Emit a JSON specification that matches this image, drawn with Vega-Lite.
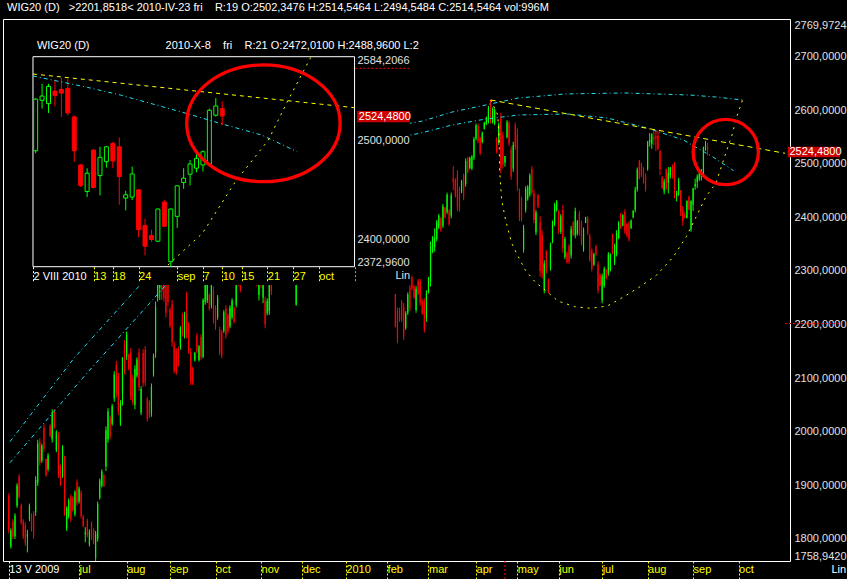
{
  "$schema": "https://vega.github.io/schema/vega-lite/v6.json",
  "width": 787,
  "height": 542,
  "autosize": {"type": "none"},
  "padding": {"left": 3, "top": 19, "right": 57, "bottom": 18},
  "background": "#000000",
  "title": {
    "text": "WIG20 (D)\u00a0\u00a0\u00a0>2201,8518<\u00a02010-IV-23\u00a0fri\u00a0\u00a0\u00a0\u00a0R:19 O:2502,3476 H:2514,5464 L:2494,5484 C:2514,5464 vol:996M",
    "anchor": "start", "frame": "group", "font": "Liberation Sans", "fontSize": 11, "fontWeight": "normal",
    "color": "#ffffff", "baseline": "alphabetic", "offset": 6, "dx": 4, "dy": 9
  },
  "config": {
    "locale": {"number": {"decimal": ",", "thousands": ".", "grouping": [3], "currency": ["", ""]}},
    "view": {"stroke": "#ffffff", "strokeWidth": 1},
    "axis": {"grid": false, "domain": false, "labelFont": "Liberation Sans", "labelFontSize": 11, "labelColor": "#e0e0e0",
             "titleFont": "Liberation Sans", "titleFontSize": 11, "titleFontWeight": "normal", "titleColor": "#e0e0e0"},
    "text": {"font": "Liberation Sans", "fontSize": 11}
  },
  "datasets": {
    "wig20": [
      {"d":0,"o":1880,"h":1885,"l":1810,"c":1815},{"d":1,"o":1786,"h":1820,"l":1782,"c":1816},{"d":2,"o":1832,"h":1837,"l":1800,"c":1804},
      {"d":3,"o":1805,"h":1848,"l":1800,"c":1844},{"d":4,"o":1862,"h":1904,"l":1858,"c":1900},{"d":5,"o":1916,"h":1921,"l":1875,"c":1879},
      {"d":6,"o":1862,"h":1866,"l":1827,"c":1831},{"d":7,"o":1833,"h":1837,"l":1800,"c":1805},{"d":8,"o":1826,"h":1831,"l":1787,"c":1792},
      {"d":9,"o":1804,"h":1817,"l":1775,"c":1809},{"d":10,"o":1837,"h":1866,"l":1833,"c":1862},{"d":11,"o":1844,"h":1848,"l":1814,"c":1818},
      {"d":12,"o":1847,"h":1852,"l":1800,"c":1805},{"d":13,"o":1850,"h":1917,"l":1843,"c":1910},{"d":14,"o":1905,"h":1985,"l":1899,"c":1978},
      {"d":15,"o":1982,"h":1988,"l":1937,"c":1942},{"d":16,"o":1946,"h":1978,"l":1942,"c":1974},{"d":17,"o":2008,"h":2014,"l":1962,"c":1968},
      {"d":18,"o":1949,"h":1950,"l":1916,"c":1919},{"d":19,"o":1930,"h":1960,"l":1926,"c":1956},{"d":20,"o":2011,"h":2014,"l":1990,"c":1993},
      {"d":21,"o":1986,"h":2042,"l":1980,"c":2036},{"d":22,"o":2038,"h":2042,"l":2005,"c":2009},{"d":23,"o":1966,"h":2003,"l":1962,"c":1999},
      {"d":24,"o":1994,"h":2000,"l":1914,"c":1920},{"d":25,"o":1935,"h":1939,"l":1899,"c":1903},{"d":26,"o":1920,"h":1975,"l":1914,"c":1969},
      {"d":27,"o":1954,"h":1955,"l":1843,"c":1845},{"d":28,"o":1820,"h":1861,"l":1815,"c":1857},{"d":29,"o":1842,"h":1876,"l":1838,"c":1872},
      {"d":30,"o":1878,"h":1883,"l":1832,"c":1837},{"d":31,"o":1877,"h":1880,"l":1851,"c":1854},{"d":32,"o":1846,"h":1891,"l":1842,"c":1887},
      {"d":33,"o":1906,"h":1911,"l":1862,"c":1867},{"d":34,"o":1870,"h":1898,"l":1866,"c":1894},{"d":35,"o":1886,"h":1891,"l":1838,"c":1843},
      {"d":36,"o":1842,"h":1845,"l":1822,"c":1824},{"d":37,"o":1809,"h":1822,"l":1794,"c":1812},{"d":38,"o":1834,"h":1838,"l":1803,"c":1807},
      {"d":39,"o":1790,"h":1818,"l":1786,"c":1814},{"d":40,"o":1829,"h":1833,"l":1798,"c":1802},{"d":41,"o":1817,"h":1820,"l":1790,"c":1793},
      {"d":42,"o":1764,"h":1815,"l":1758.942,"c":1810},{"d":43,"o":1800,"h":1870,"l":1795,"c":1865},{"d":44,"o":1877,"h":1913,"l":1873,"c":1909},
      {"d":45,"o":1900,"h":1930,"l":1896,"c":1926},{"d":46,"o":1920,"h":1921,"l":1897,"c":1898},{"d":47,"o":1935,"h":2010,"l":1927,"c":2003},
      {"d":48,"o":1986,"h":2044,"l":1980,"c":2038},{"d":49,"o":2025,"h":2030,"l":1986,"c":1991},{"d":50,"o":2015,"h":2052,"l":2011,"c":2048},
      {"d":51,"o":2062,"h":2113,"l":2056,"c":2107},{"d":52,"o":2125,"h":2132,"l":2064,"c":2071},{"d":53,"o":2103,"h":2110,"l":2031,"c":2038},
      {"d":54,"o":2016,"h":2059,"l":2011,"c":2054},{"d":55,"o":2072,"h":2139,"l":2049,"c":2139},{"d":56,"o":2165,"h":2171,"l":2107,"c":2113},
      {"d":57,"o":2140,"h":2187,"l":2134,"c":2181},{"d":58,"o":2143,"h":2146,"l":2115,"c":2118},{"d":59,"o":2148,"h":2156,"l":2059,"c":2067},
      {"d":60,"o":2100,"h":2106,"l":2049,"c":2054},{"d":61,"o":2050,"h":2124,"l":2042,"c":2117},{"d":62,"o":2105,"h":2139,"l":2101,"c":2135},
      {"d":63,"o":2148,"h":2156,"l":2076,"c":2084},{"d":64,"o":2036,"h":2085,"l":2031,"c":2080},{"d":65,"o":2147,"h":2154,"l":2084,"c":2091},
      {"d":66,"o":2153,"h":2160,"l":2085,"c":2092},{"d":67,"o":2061,"h":2065,"l":2019,"c":2023},{"d":68,"o":2056,"h":2059,"l":2026,"c":2030},
      {"d":69,"o":2034,"h":2090,"l":2028,"c":2084},{"d":70,"o":2107,"h":2146,"l":2103,"c":2142},{"d":71,"o":2148,"h":2243,"l":2138,"c":2233},
      {"d":72,"o":2250,"h":2290,"l":2243,"c":2282},{"d":73,"o":2268,"h":2302,"l":2246,"c":2295},{"d":74,"o":2298,"h":2305,"l":2246,"c":2262},
      {"d":75,"o":2285,"h":2296,"l":2243,"c":2250},{"d":76,"o":2278,"h":2285,"l":2213,"c":2222},{"d":77,"o":2284,"h":2290,"l":2235,"c":2242},
      {"d":78,"o":2228,"h":2232,"l":2194,"c":2198},{"d":79,"o":2238,"h":2246,"l":2159,"c":2167},{"d":80,"o":2162,"h":2168,"l":2109,"c":2114},
      {"d":81,"o":2151,"h":2156,"l":2106,"c":2110},{"d":82,"o":2155,"h":2159,"l":2121,"c":2125},{"d":83,"o":2157,"h":2197,"l":2153,"c":2193},
      {"d":84,"o":2218,"h":2222,"l":2177,"c":2181},{"d":85,"o":2179,"h":2224,"l":2174,"c":2219},{"d":86,"o":2253,"h":2261,"l":2174,"c":2182},
      {"d":87,"o":2198,"h":2204,"l":2146,"c":2152},{"d":88,"o":2149,"h":2156,"l":2087,"c":2094},{"d":89,"o":2118,"h":2121,"l":2087,"c":2090},
      {"d":90,"o":2133,"h":2149,"l":2131,"c":2147},{"d":91,"o":2180,"h":2184,"l":2146,"c":2150},{"d":92,"o":2134,"h":2162,"l":2131,"c":2159},
      {"d":93,"o":2177,"h":2182,"l":2134,"c":2139},{"d":94,"o":2140,"h":2249,"l":2137,"c":2246},{"d":95,"o":2242,"h":2285,"l":2237,"c":2280},
      {"d":96,"o":2245,"h":2290,"l":2240,"c":2285},{"d":97,"o":2255,"h":2258,"l":2226,"c":2229},{"d":98,"o":2236,"h":2285,"l":2230,"c":2280},
      {"d":99,"o":2264,"h":2271,"l":2202,"c":2209},{"d":100,"o":2231,"h":2236,"l":2190,"c":2195},{"d":101,"o":2214,"h":2255,"l":2209,"c":2250},
      {"d":102,"o":2191,"h":2196,"l":2143,"c":2148},{"d":103,"o":2185,"h":2190,"l":2137,"c":2142},{"d":104,"o":2188,"h":2227,"l":2184,"c":2223},
      {"d":105,"o":2230,"h":2236,"l":2174,"c":2180},{"d":106,"o":2217,"h":2221,"l":2184,"c":2188},{"d":107,"o":2197,"h":2236,"l":2193,"c":2232},
      {"d":108,"o":2214,"h":2249,"l":2210,"c":2245},{"d":109,"o":2230,"h":2233,"l":2202,"c":2205},{"d":110,"o":2237,"h":2280,"l":2232,"c":2275},
      {"d":111,"o":2296,"h":2300,"l":2271,"c":2275},{"d":112,"o":2300,"h":2305,"l":2260,"c":2265},{"d":113,"o":2290,"h":2330,"l":2285,"c":2325},
      {"d":114,"o":2318,"h":2352,"l":2310,"c":2345},{"d":115,"o":2340,"h":2376,"l":2335,"c":2370},{"d":116,"o":2365,"h":2395,"l":2355,"c":2390},
      {"d":117,"o":2385,"h":2420,"l":2375,"c":2412},{"d":118,"o":2430,"h":2440,"l":2395,"c":2400},{"d":119,"o":2395,"h":2400,"l":2355,"c":2360},
      {"d":120,"o":2350,"h":2355,"l":2271,"c":2280},{"d":121,"o":2255,"h":2320,"l":2245,"c":2310},{"d":122,"o":2320,"h":2330,"l":2268,"c":2275},
      {"d":123,"o":2250,"h":2300,"l":2240,"c":2290},{"d":124,"o":2245,"h":2252,"l":2193,"c":2200},{"d":125,"o":2221,"h":2249,"l":2217,"c":2244},
      {"d":126,"o":2225,"h":2285,"l":2218,"c":2278},{"d":127,"o":2294,"h":2300,"l":2255,"c":2262},{"d":128,"o":2285,"h":2310,"l":2280,"c":2305},
      {"d":129,"o":2300,"h":2330,"l":2295,"c":2325},{"d":130,"o":2318,"h":2348,"l":2310,"c":2342},{"d":131,"o":2342,"h":2350,"l":2315,"c":2320},
      {"d":132,"o":2322,"h":2362,"l":2318,"c":2356},{"d":133,"o":2352,"h":2380,"l":2345,"c":2374},{"d":134,"o":2372,"h":2382,"l":2345,"c":2350},
      {"d":135,"o":2348,"h":2372,"l":2340,"c":2365},{"d":136,"o":2365,"h":2370,"l":2330,"c":2338},{"d":137,"o":2335,"h":2365,"l":2325,"c":2360},
      {"d":138,"o":2358,"h":2362,"l":2300,"c":2305},{"d":139,"o":2237,"h":2298,"l":2235,"c":2290},{"d":140,"o":2290,"h":2330,"l":2285,"c":2325},
      {"d":141,"o":2320,"h":2345,"l":2310,"c":2340},{"d":142,"o":2340,"h":2375,"l":2335,"c":2370},{"d":143,"o":2378,"h":2385,"l":2355,"c":2360},
      {"d":144,"o":2370,"h":2380,"l":2340,"c":2345},{"d":145,"o":2350,"h":2360,"l":2320,"c":2325},{"d":146,"o":2310,"h":2345,"l":2300,"c":2340},
      {"d":147,"o":2345,"h":2355,"l":2320,"c":2325},{"d":148,"o":2330,"h":2340,"l":2300,"c":2305},{"d":149,"o":2295,"h":2330,"l":2290,"c":2325},
      {"d":150,"o":2318,"h":2345,"l":2310,"c":2340},{"d":151,"o":2345,"h":2350,"l":2315,"c":2320},{"d":152,"o":2325,"h":2330,"l":2295,"c":2300},
      {"d":153,"o":2295,"h":2320,"l":2288,"c":2315},{"d":154,"o":2310,"h":2335,"l":2300,"c":2330},{"d":155,"o":2325,"h":2345,"l":2315,"c":2340},
      {"d":156,"o":2335,"h":2360,"l":2330,"c":2355},{"d":157,"o":2350,"h":2372,"l":2345,"c":2368},{"d":158,"o":2365,"h":2385,"l":2358,"c":2380},
      {"d":159,"o":2385,"h":2392,"l":2365,"c":2370},{"d":160,"o":2368,"h":2390,"l":2362,"c":2385},{"d":161,"o":2375,"h":2395,"l":2370,"c":2390},
      {"d":162,"o":2395,"h":2400,"l":2375,"c":2388},{"d":163,"o":2390,"h":2425,"l":2385,"c":2420},{"d":164,"o":2420,"h":2440,"l":2410,"c":2435},
      {"d":165,"o":2430,"h":2455,"l":2425,"c":2450},{"d":166,"o":2452,"h":2460,"l":2430,"c":2440},{"d":167,"o":2440,"h":2470,"l":2435,"c":2465},
      {"d":168,"o":2460,"h":2482,"l":2450,"c":2475},{"d":169,"o":2475,"h":2480,"l":2440,"c":2445},{"d":170,"o":2450,"h":2460,"l":2425,"c":2430},
      {"d":171,"o":2430,"h":2455,"l":2420,"c":2450},{"d":172,"o":2445,"h":2465,"l":2435,"c":2460},{"d":173,"o":2460,"h":2470,"l":2430,"c":2435},
      {"d":174,"o":2440,"h":2450,"l":2405,"c":2410},{"d":175,"o":2420,"h":2430,"l":2390,"c":2395},{"d":176,"o":2400,"h":2410,"l":2370,"c":2375},
      {"d":177,"o":2385,"h":2395,"l":2350,"c":2358},{"d":178,"o":2355,"h":2390,"l":2345,"c":2380},{"d":179,"o":2378,"h":2385,"l":2340,"c":2345},
      {"d":180,"o":2350,"h":2360,"l":2320,"c":2325},{"d":181,"o":2340,"h":2350,"l":2305,"c":2310},{"d":182,"o":2320,"h":2330,"l":2290,"c":2295},
      {"d":183,"o":2290,"h":2320,"l":2285,"c":2315},{"d":184,"o":2325,"h":2335,"l":2295,"c":2300},{"d":185,"o":2305,"h":2315,"l":2282,"c":2285},
      {"d":186,"o":2295,"h":2300,"l":2282,"c":2285},{"d":187,"o":2257,"h":2257,"l":2195,"c":2195},{"d":188,"o":2225,"h":2231.5,"l":2165,"c":2172},
      {"d":189,"o":2228,"h":2231.5,"l":2205,"c":2208},{"d":190,"o":2242,"h":2246,"l":2205,"c":2209},{"d":191,"o":2233,"h":2240,"l":2171,"c":2178},
      {"d":192,"o":2194,"h":2225,"l":2190,"c":2221},{"d":193,"o":2222,"h":2260,"l":2218,"c":2256},{"d":194,"o":2269,"h":2274,"l":2225,"c":2230},
      {"d":195,"o":2288,"h":2291,"l":2264,"c":2267},{"d":196,"o":2271,"h":2274,"l":2248,"c":2251},{"d":197,"o":2227,"h":2272,"l":2222,"c":2267},
      {"d":198,"o":2282,"h":2285,"l":2255,"c":2258},{"d":199,"o":2280,"h":2285,"l":2235,"c":2240},{"d":200,"o":2244,"h":2247,"l":2218,"c":2221},
      {"d":201,"o":2243,"h":2249,"l":2185,"c":2191},{"d":202,"o":2211,"h":2264,"l":2205,"c":2258},{"d":203,"o":2261,"h":2289,"l":2258,"c":2286},
      {"d":204,"o":2279,"h":2355,"l":2271,"c":2347},{"d":205,"o":2336,"h":2365,"l":2333,"c":2362},{"d":206,"o":2345,"h":2379.5,"l":2336,"c":2362},
      {"d":207,"o":2359,"h":2395,"l":2355,"c":2391},{"d":208,"o":2381,"h":2406,"l":2378,"c":2403},{"d":209,"o":2398,"h":2401,"l":2373,"c":2376},
      {"d":210,"o":2384,"h":2425,"l":2380,"c":2420},{"d":211,"o":2418,"h":2420,"l":2398,"c":2400},{"d":212,"o":2410,"h":2446,"l":2406,"c":2442},
      {"d":213,"o":2412,"h":2415.5,"l":2384,"c":2387},{"d":214,"o":2403,"h":2446,"l":2398,"c":2441},{"d":215,"o":2473,"h":2496,"l":2451,"c":2465},
      {"d":216,"o":2469,"h":2473,"l":2437,"c":2441},{"d":217,"o":2480,"h":2488,"l":2412,"c":2420},{"d":218,"o":2452,"h":2457,"l":2410.5,"c":2415},
      {"d":219,"o":2448,"h":2470,"l":2445,"c":2467},{"d":220,"o":2477,"h":2482,"l":2432,"c":2437},{"d":221,"o":2462,"h":2510,"l":2457,"c":2505},
      {"d":222,"o":2510,"h":2513,"l":2482,"c":2485},{"d":223,"o":2492,"h":2513,"l":2489.5,"c":2511},{"d":224,"o":2491,"h":2516,"l":2488,"c":2513},
      {"d":225,"o":2511,"h":2550,"l":2507,"c":2546},{"d":226,"o":2547,"h":2575,"l":2544,"c":2572},{"d":227,"o":2571,"h":2575,"l":2538,"c":2542},
      {"d":228,"o":2547,"h":2550,"l":2516,"c":2520},{"d":229,"o":2540,"h":2560,"l":2538,"c":2558},{"d":230,"o":2565,"h":2578,"l":2564,"c":2577},
      {"d":231,"o":2574,"h":2588,"l":2572,"c":2586},{"d":232,"o":2578,"h":2608,"l":2575,"c":2605},{"d":233,"o":2615,"h":2619,"l":2575,"c":2580},
      {"d":234,"o":2578,"h":2605,"l":2575,"c":2602},{"d":235,"o":2575,"h":2603,"l":2572,"c":2600},{"d":236,"o":2547,"h":2550,"l":2519,"c":2522},
      {"d":237,"o":2539,"h":2577,"l":2535,"c":2573},{"d":238,"o":2585,"h":2595,"l":2482,"c":2493},{"d":239,"o":2553,"h":2560,"l":2491,"c":2498},
      {"d":240,"o":2502.3476,"h":2514.5464,"l":2494.5484,"c":2514.5464},{"d":241,"o":2550,"h":2581.5,"l":2547,"c":2578},{"d":242,"o":2575,"h":2580,"l":2533,"c":2538},
      {"d":243,"o":2527,"h":2533,"l":2470,"c":2476},{"d":244,"o":2491,"h":2541,"l":2485,"c":2535},{"d":245,"o":2572,"h":2577,"l":2526,"c":2531},
      {"d":246,"o":2554,"h":2566,"l":2449,"c":2461},{"d":247,"o":2448,"h":2454,"l":2393,"c":2399},{"d":248,"o":2434,"h":2438.5,"l":2392,"c":2397},
      {"d":249,"o":2339,"h":2386,"l":2334,"c":2381},{"d":250,"o":2414,"h":2458,"l":2409,"c":2453},{"d":251,"o":2434,"h":2460,"l":2431,"c":2457},
      {"d":252,"o":2443,"h":2482,"l":2438.5,"c":2478},{"d":253,"o":2490,"h":2496,"l":2442,"c":2447},{"d":254,"o":2445,"h":2451,"l":2389,"c":2395},
      {"d":255,"o":2372,"h":2414,"l":2367,"c":2409},{"d":256,"o":2441,"h":2443.5,"l":2417,"c":2420},{"d":257,"o":2391,"h":2402.5,"l":2289,"c":2300},
      {"d":258,"o":2366,"h":2375,"l":2286,"c":2295},{"d":259,"o":2264,"h":2320,"l":2258,"c":2314},{"d":260,"o":2335,"h":2339,"l":2295.5,"c":2300},
      {"d":261,"o":2283,"h":2286,"l":2258,"c":2261},{"d":262,"o":2306,"h":2353,"l":2300.5,"c":2348},{"d":263,"o":2356,"h":2394,"l":2351.5,"c":2390},
      {"d":264,"o":2388,"h":2427,"l":2384,"c":2423},{"d":265,"o":2413,"h":2432,"l":2410.5,"c":2430},{"d":266,"o":2410,"h":2414,"l":2369,"c":2373},
      {"d":267,"o":2373,"h":2406,"l":2369,"c":2402},{"d":268,"o":2414,"h":2423,"l":2334,"c":2343},{"d":269,"o":2326,"h":2364,"l":2322,"c":2360},
      {"d":270,"o":2334,"h":2336,"l":2314,"c":2316},{"d":271,"o":2346,"h":2350,"l":2313,"c":2317},{"d":272,"o":2329,"h":2384,"l":2323,"c":2378},
      {"d":273,"o":2390,"h":2393,"l":2365,"c":2368},{"d":274,"o":2367,"h":2418,"l":2361,"c":2412},{"d":275,"o":2369,"h":2395,"l":2366,"c":2392},
      {"d":276,"o":2407,"h":2412,"l":2366,"c":2371},{"d":277,"o":2389,"h":2394,"l":2348,"c":2353},{"d":278,"o":2340,"h":2381,"l":2336,"c":2377},
      {"d":279,"o":2390,"h":2401,"l":2389,"c":2400},{"d":280,"o":2398,"h":2402,"l":2367,"c":2371},{"d":281,"o":2365,"h":2370,"l":2317,"c":2322},
      {"d":282,"o":2338,"h":2342,"l":2299,"c":2303},{"d":283,"o":2312,"h":2334,"l":2309,"c":2331},{"d":284,"o":2346,"h":2348,"l":2328,"c":2330},
      {"d":285,"o":2312,"h":2318,"l":2258,"c":2264},{"d":286,"o":2293,"h":2295,"l":2271,"c":2273},{"d":287,"o":2245,"h":2295,"l":2239.6,"c":2290},
      {"d":288,"o":2273,"h":2308,"l":2269,"c":2304},{"d":289,"o":2302,"h":2304,"l":2284,"c":2286},{"d":290,"o":2295,"h":2335,"l":2291,"c":2331},
      {"d":291,"o":2302,"h":2333,"l":2299,"c":2330},{"d":292,"o":2366,"h":2370,"l":2331,"c":2335},{"d":293,"o":2315,"h":2351,"l":2311,"c":2347},
      {"d":294,"o":2332,"h":2376,"l":2327,"c":2371},{"d":295,"o":2362,"h":2393,"l":2359,"c":2390},{"d":296,"o":2406,"h":2409,"l":2378,"c":2381},
      {"d":297,"o":2385,"h":2406,"l":2383,"c":2404},{"d":298,"o":2410,"h":2415,"l":2369,"c":2374},{"d":299,"o":2387,"h":2390,"l":2363,"c":2366},
      {"d":300,"o":2389,"h":2393,"l":2355,"c":2359},{"d":301,"o":2380,"h":2396,"l":2378,"c":2394},{"d":302,"o":2400,"h":2414,"l":2398,"c":2412},
      {"d":303,"o":2414,"h":2457,"l":2409,"c":2452},{"d":304,"o":2452,"h":2493,"l":2448,"c":2489},{"d":305,"o":2505,"h":2507,"l":2471,"c":2473},
      {"d":306,"o":2499,"h":2502,"l":2475,"c":2478},{"d":307,"o":2491,"h":2494,"l":2463,"c":2466},{"d":308,"o":2478,"h":2482,"l":2448,"c":2452},
      {"d":309,"o":2489.6,"h":2542.5,"l":2487,"c":2541.5},{"d":310,"o":2540.3,"h":2557,"l":2532,"c":2544.6},{"d":311,"o":2537,"h":2557,"l":2527.6,"c":2554.3},
      {"d":312,"o":2549.6,"h":2561,"l":2534.3,"c":2545.3},{"d":313,"o":2551.3,"h":2563,"l":2523.6,"c":2547.6},{"d":314,"o":2552.3,"h":2562,"l":2525,"c":2527.6},
      {"d":315,"o":2523.6,"h":2525,"l":2478.6,"c":2489.6},{"d":316,"o":2475.3,"h":2476.5,"l":2453,"c":2454.6},{"d":317,"o":2448.6,"h":2472,"l":2443,"c":2467},
      {"d":318,"o":2490.3,"h":2491,"l":2451.5,"c":2452.6},{"d":319,"o":2464.6,"h":2493.6,"l":2444.6,"c":2483},{"d":320,"o":2478.6,"h":2494,"l":2472.6,"c":2493.6},
      {"d":321,"o":2497,"h":2498.6,"l":2472,"c":2479.3},{"d":322,"o":2493.6,"h":2503,"l":2435.3,"c":2463.6},{"d":323,"o":2442,"h":2449.3,"l":2429.6,"c":2445.3},
      {"d":324,"o":2443,"h":2473.6,"l":2440,"c":2466.3},{"d":325,"o":2450.3,"h":2451,"l":2402.6,"c":2410.3},{"d":326,"o":2414.3,"h":2421.3,"l":2384.3,"c":2393.6},
      {"d":327,"o":2404.3,"h":2410.3,"l":2398,"c":2400.3},{"d":328,"o":2398.6,"h":2431.5,"l":2398,"c":2431},{"d":329,"o":2438,"h":2440.3,"l":2413,"c":2413.6},
      {"d":330,"o":2378,"h":2431.5,"l":2372.96,"c":2431},{"d":331,"o":2423.6,"h":2454.8,"l":2412,"c":2454.3},{"d":332,"o":2457.6,"h":2472,"l":2451.3,"c":2462},
      {"d":333,"o":2466,"h":2480.3,"l":2454.6,"c":2476.3},{"d":334,"o":2472.01,"h":2488.96,"l":2468,"c":2482},{"d":335,"o":2475.3,"h":2490,"l":2468.6,"c":2488.6},
      {"d":336,"o":2476.3,"h":2532,"l":2476,"c":2530.3},{"d":337,"o":2525.3,"h":2542.6,"l":2524,"c":2534.6},{"d":338,"o":2532,"h":2539.3,"l":2515.3,"c":2524.48}
    ],
    "lines": [
      {"line":"main cyan upper","d":0.57,"v":1981.5},{"line":"main cyan upper","d":31.6,"v":2137.6},{"line":"main cyan upper","d":63.5,"v":2273.8},
      {"line":"main cyan upper","d":189.2,"v":2572.3},{"line":"main cyan upper","d":200.2,"v":2579.7},{"line":"main cyan upper","d":214.5,"v":2596.5},
      {"line":"main cyan upper","d":230.7,"v":2609.6},{"line":"main cyan upper","d":246.5,"v":2622.6},{"line":"main cyan upper","d":269.0,"v":2630.1},
      {"line":"main cyan upper","d":297.6,"v":2632.0},{"line":"main cyan upper","d":329.1,"v":2628.2},{"line":"main cyan upper","d":342.0,"v":2624.5},
      {"line":"main cyan upper","d":354.9,"v":2618.9},
      {"line":"main cyan lower","d":0.57,"v":1942.3},{"line":"main cyan lower","d":38.3,"v":2111.5},{"line":"main cyan lower","d":76.0,"v":2273.8},
      {"line":"main cyan lower","d":189.2,"v":2549.9},{"line":"main cyan lower","d":198.8,"v":2556.8},{"line":"main cyan lower","d":214.5,"v":2572.3},
      {"line":"main cyan lower","d":230.7,"v":2583.4},{"line":"main cyan lower","d":246.5,"v":2590.9},{"line":"main cyan lower","d":270.4,"v":2592.8},
      {"line":"main cyan lower","d":289.5,"v":2585.3},{"line":"main cyan lower","d":308.6,"v":2566.7},{"line":"main cyan lower","d":326.3,"v":2544.3},
      {"line":"main cyan lower","d":340.6,"v":2512.6},{"line":"main cyan lower","d":350.6,"v":2487.0},
      {"line":"main cup","d":233.1,"v":2618.9},{"line":"main cup","d":236.5,"v":2590.9},{"line":"main cup","d":237.2,"v":2544.3},
      {"line":"main cup","d":237.4,"v":2488.3},{"line":"main cup","d":238.4,"v":2432.4},{"line":"main cup","d":240.3,"v":2395.1},
      {"line":"main cup","d":243.2,"v":2352.1},{"line":"main cup","d":246.5,"v":2326.0},{"line":"main cup","d":249.8,"v":2301.8},
      {"line":"main cup","d":254.6,"v":2279.4},{"line":"main cup","d":259.4,"v":2264.5},{"line":"main cup","d":265.6,"v":2244.0},
      {"line":"main cup","d":273.7,"v":2233.3},{"line":"main cup","d":281.4,"v":2230.3},{"line":"main cup","d":289.5,"v":2234.6},
      {"line":"main cup","d":297.6,"v":2252.0},{"line":"main cup","d":305.3,"v":2270.6},{"line":"main cup","d":313.4,"v":2292.5},
      {"line":"main cup","d":321.5,"v":2326.6},{"line":"main cup","d":327.7,"v":2363.9},{"line":"main cup","d":332.5,"v":2401.2},
      {"line":"main cup","d":337.2,"v":2438.5},{"line":"main cup","d":342.0,"v":2463.5},{"line":"main cup","d":346.8,"v":2519.5},
      {"line":"main cup","d":350.1,"v":2556.8},{"line":"main cup","d":351.6,"v":2581.6},{"line":"main cup","d":354.9,"v":2618.9},
      {"line":"main resistance","d":233.1,"v":2618.9},{"line":"main resistance","d":375.45,"v":2519.5},
      {"line":"inset cyan","d":308.59,"v":2564.8},{"line":"inset cyan","d":317.03,"v":2553.4},{"line":"inset cyan","d":322.15,"v":2545.7},
      {"line":"inset cyan","d":332.37,"v":2527.3},{"line":"inset cyan","d":338.0,"v":2516.5},{"line":"inset cyan","d":344.14,"v":2505.4},
      {"line":"inset cyan","d":349.66,"v":2488.6},
      {"line":"inset resistance","d":308.59,"v":2566.8},{"line":"inset resistance","d":358.56,"v":2532.9},
      {"line":"inset steep","d":329.56,"v":2374.7},{"line":"inset steep","d":334.93,"v":2406.6},{"line":"inset steep","d":340.04,"v":2458.5},
      {"line":"inset steep","d":345.17,"v":2500.4},{"line":"inset steep","d":348.24,"v":2540.6},{"line":"inset steep","d":351.81,"v":2584.2}
    ]
  },
  "data": {"name": "wig20"},
  "resolve": {"scale": {"x": "independent", "y": "independent"}},
  "layer": [
    {
      "layer": [
        {
          "mark": {"type": "rule", "strokeWidth": 1},
          "encoding": {
            "x": {"field": "d", "type": "quantitative", "scale": {"domain": [-0.38, 375.45], "nice": false, "zero": false},
              "axis": {"orient": "bottom", "title": null,
                "values": [0,34,57,78,100,122,142,163,183,203,226,246,266,287,309,331,353],
                "labelExpr": "['13 V 2009','jul','aug','sep','oct','nov','dec','2010','feb','mar','apr','may','jun','jul','aug','sep','oct'][indexof([0,34,57,78,100,122,142,163,183,203,226,246,266,287,309,331,353], datum.value)]",
                "ticks": true, "tickSize": 18, "tickDash": [2,2], "tickWidth": 1,
                "tickColor": {"condition": {"test": "datum.value == 0", "value": "#ffffff"}, "value": "#ffff00"},
                "labelColor": {"condition": {"test": "datum.value == 0", "value": "#ffffff"}, "value": "#ffff00"},
                "labelAlign": "left", "labelDx": 3, "labelBaseline": "alphabetic", "labelPadding": -6.3,
                "labelFlush": false, "labelOverlap": false, "labelBound": false}},
            "y": {"field": "l", "type": "quantitative", "scale": {"domain": [1758.942, 2769.9724], "nice": false, "zero": false},
              "axis": {"orient": "right", "title": "Lin",
                "values": [1758.942,1800,1900,2000,2100,2200,2300,2400,2500,2600,2700,2769.9724],
                "format": ".4f", "ticks": false, "tickSize": 0, "labelPadding": 4, "labelFlush": true, "labelOverlap": false,
                "titleAngle": 0, "titleX": 41, "titleY": 553.7, "titleAlign": "left", "titleBaseline": "alphabetic", "titleColor": "#ffffff"}},
            "y2": {"field": "h"},
            "color": {"condition": {"test": "datum.c >= datum.o", "value": "#00ff00"}, "value": "#ff0000"}
          }
        },
        {
          "mark": {"type": "bar", "size": 1.2},
          "encoding": {
            "x": {"field": "d", "type": "quantitative"},
            "y": {"field": "o", "type": "quantitative"},
            "y2": {"field": "c"},
            "color": {"condition": {"test": "datum.c >= datum.o", "value": "#00ff00"}, "value": "#ff0000"}
          }
        },
        {
          "data": {"name": "lines"},
          "transform": [{"filter": "datum.line == 'main cyan upper' || datum.line == 'main cyan lower'"}],
          "mark": {"type": "line", "color": "#1ee0f0", "strokeWidth": 1, "strokeDash": [4,3,1,3]},
          "encoding": {"x": {"field": "d", "type": "quantitative"}, "y": {"field": "v", "type": "quantitative"}, "detail": {"field": "line"}}
        },
        {
          "data": {"name": "lines"},
          "transform": [{"filter": "datum.line == 'main cup'"}],
          "mark": {"type": "line", "color": "#ffff00", "strokeWidth": 1, "strokeDash": [2,5]},
          "encoding": {"x": {"field": "d", "type": "quantitative"}, "y": {"field": "v", "type": "quantitative"}}
        },
        {
          "data": {"name": "lines"},
          "transform": [{"filter": "datum.line == 'main resistance'"}],
          "mark": {"type": "line", "color": "#ffff00", "strokeWidth": 1, "strokeDash": [5,4]},
          "encoding": {"x": {"field": "d", "type": "quantitative"}, "y": {"field": "v", "type": "quantitative"}}
        },
        {
          "data": {"values": [{}]},
          "mark": {"type": "point", "shape": "circle", "size": 4264, "filled": false, "color": "#ff0000", "strokeWidth": 3.3, "opacity": 1},
          "encoding": {"x": {"datum": 346.8, "type": "quantitative"}, "y": {"datum": 2521.9, "type": "quantitative"}}
        },
        {
          "transform": [{"filter": "datum.d == 338"}],
          "mark": {"type": "rect", "color": "#cc0000", "xOffset": 2.7, "x2Offset": 55, "yOffset": -3.9, "y2Offset": 6.7},
          "encoding": {"x": {"datum": 375.45, "type": "quantitative"}, "x2": {"datum": 375.45}, "y": {"field": "c", "type": "quantitative"}, "y2": {"field": "c"}}
        },
        {
          "transform": [{"filter": "datum.d == 338"}],
          "mark": {"type": "text", "align": "left", "baseline": "middle", "dx": 4.5, "dy": 1.5, "color": "#ffffff", "font": "Liberation Sans", "fontSize": 11},
          "encoding": {"x": {"datum": 375.45, "type": "quantitative"}, "y": {"field": "c", "type": "quantitative"}, "text": {"field": "c", "type": "quantitative", "format": ".4f"}}
        },
        {
          "data": {"values": [{}]},
          "mark": {"type": "rule", "color": "#ff0000", "strokeDash": [2,2], "strokeWidth": 1},
          "encoding": {"x": {"datum": 375.45, "type": "quantitative"}, "x2": {"datum": 402.7}, "y": {"datum": 2201.85, "type": "quantitative"}}
        },
        {
          "data": {"values": [{}]},
          "mark": {"type": "rule", "color": "#ff0000", "strokeDash": [2,2], "strokeWidth": 1},
          "encoding": {"x": {"datum": 240, "type": "quantitative"}, "y": {"datum": 1758.942, "type": "quantitative"}, "y2": {"datum": 1725.4}}
        }
      ]
    },
    {
      "layer": [
        {
          "data": {"values": [{}]},
          "mark": {"type": "rect", "color": "#000000"},
          "encoding": {"x": {"datum": 304.86, "type": "quantitative"}, "x2": {"datum": 367.16}, "y": {"datum": 2354.6, "type": "quantitative"}, "y2": {"datum": 2621.1}}
        },
        {
          "data": {"values": [{}]},
          "mark": {"type": "rect", "fill": "#000000", "stroke": "#ffffff", "strokeWidth": 1},
          "encoding": {"x": {"datum": 308.586, "type": "quantitative"}, "x2": {"datum": 358.56}, "y": {"datum": 2372.96, "type": "quantitative"}, "y2": {"datum": 2584.2066}}
        },
        {
          "transform": [{"filter": "datum.d >= 309"}],
          "mark": {"type": "rule", "strokeWidth": 1},
          "encoding": {
            "x": {"field": "d", "type": "quantitative", "scale": {"domain": [304.704, 425.46], "nice": false, "zero": false},
              "axis": {"orient": "bottom", "offset": -294.3, "title": null, "zindex": 1,
                "values": [308.586,318,321,325,331,335,338,341,345,349,353,358.56],
                "labelExpr": "['2 VIII 2010','13','18','24','sep','7','10','15','21','27','oct',''][indexof([308.586,318,321,325,331,335,338,341,345,349,353,358.56], datum.value)]",
                "ticks": true, "tickSize": 15, "tickDash": [2,2], "tickWidth": 1,
                "tickColor": {"condition": [{"test": "datum.value < 309", "value": "#ffffff"}, {"test": "datum.value > 358", "value": "#a0a0a0"}], "value": "#ffff00"},
                "labelColor": {"condition": {"test": "datum.value < 309", "value": "#ffffff"}, "value": "#ffff00"},
                "labelAlign": "left", "labelDx": 1.5, "labelBaseline": "alphabetic", "labelPadding": -2.2,
                "labelFlush": false, "labelOverlap": false, "labelBound": false}},
            "y": {"field": "l", "type": "quantitative", "scale": {"domain": [2076.91, 2622.13], "nice": false, "zero": false},
              "axis": {"orient": "right", "offset": -436, "title": "Lin", "zindex": 1,
                "values": [2372.96, 2400, 2500, 2584.2066],
                "format": ".4f", "ticks": false, "tickSize": 0, "labelPadding": 3, "labelFlush": false, "labelOverlap": false, "labelBound": false,
                "labelOffset": {"condition": [{"test": "datum.value > 2580", "value": 3.5}, {"test": "datum.value < 2380", "value": -4.2}], "value": 0},
                "titleAngle": 0, "titleX": 41, "titleY": 259.3, "titleAlign": "left", "titleBaseline": "alphabetic"}},
            "y2": {"field": "h"},
            "color": {"condition": {"test": "datum.c >= datum.o", "value": "#00ff00"}, "value": "#ff0000"}
          }
        },
        {
          "transform": [{"filter": "datum.d >= 309"}],
          "mark": {"type": "bar", "size": 4, "strokeWidth": 1},
          "encoding": {
            "x": {"field": "d", "type": "quantitative"},
            "y": {"field": "o", "type": "quantitative"},
            "y2": {"field": "c"},
            "fill": {"condition": {"test": "datum.c >= datum.o", "value": "#000000"}, "value": "#ff0000"},
            "stroke": {"condition": {"test": "datum.c >= datum.o", "value": "#00ff00"}, "value": "#ff0000"}
          }
        },
        {
          "data": {"name": "lines"},
          "transform": [{"filter": "datum.line == 'inset cyan'"}],
          "mark": {"type": "line", "color": "#1ee0f0", "strokeWidth": 1, "strokeDash": [4,3,1,3]},
          "encoding": {"x": {"field": "d", "type": "quantitative"}, "y": {"field": "v", "type": "quantitative"}}
        },
        {
          "data": {"name": "lines"},
          "transform": [{"filter": "datum.line == 'inset resistance'"}],
          "mark": {"type": "line", "color": "#ffff00", "strokeWidth": 1, "strokeDash": [4,4]},
          "encoding": {"x": {"field": "d", "type": "quantitative"}, "y": {"field": "v", "type": "quantitative"}}
        },
        {
          "data": {"name": "lines"},
          "transform": [{"filter": "datum.line == 'inset steep'"}],
          "mark": {"type": "line", "color": "#ffff00", "strokeWidth": 1, "strokeDash": [2,5]},
          "encoding": {"x": {"field": "d", "type": "quantitative"}, "y": {"field": "v", "type": "quantitative"}}
        },
        {
          "data": {"values": [{}]},
          "mark": {"type": "point", "shape": "M -1 0 A 1 0.761 0 1 1 1 0 A 1 0.761 0 1 1 -1 0 Z", "size": 23532, "filled": false, "color": "#ff0000", "strokeWidth": 3.3, "opacity": 1},
          "encoding": {"x": {"datum": 344.4, "type": "quantitative"}, "y": {"datum": 2517.2, "type": "quantitative"}}
        },
        {
          "data": {"values": [{}]},
          "mark": {"type": "text", "align": "left", "baseline": "alphabetic", "color": "#ffffff", "font": "Liberation Sans", "fontSize": 11, "text": "WIG20 (D)"},
          "encoding": {"x": {"datum": 309.2, "type": "quantitative"}, "y": {"datum": 2591.6, "type": "quantitative"}}
        },
        {
          "data": {"values": [{}]},
          "mark": {"type": "text", "align": "left", "baseline": "alphabetic", "color": "#ffffff", "font": "Liberation Sans", "fontSize": 11,
                   "text": "2010-X-8\u00a0\u00a0\u00a0\u00a0fri\u00a0\u00a0\u00a0\u00a0R:21 O:2472,0100 H:2488,9600 L:2"},
          "encoding": {"x": {"datum": 329.2, "type": "quantitative"}, "y": {"datum": 2591.6, "type": "quantitative"}}
        },
        {
          "transform": [{"filter": "datum.d == 338"}],
          "mark": {"type": "rect", "color": "#cc0000", "xOffset": 2.7, "x2Offset": 55.3, "yOffset": -5.1, "y2Offset": 6.2},
          "encoding": {"x": {"datum": 358.56, "type": "quantitative"}, "x2": {"datum": 358.56}, "y": {"field": "c", "type": "quantitative"}, "y2": {"field": "c"}}
        },
        {
          "transform": [{"filter": "datum.d == 338"}],
          "mark": {"type": "text", "align": "left", "baseline": "middle", "dx": 4.3, "dy": 0.6, "color": "#ffffff", "font": "Liberation Sans", "fontSize": 11},
          "encoding": {"x": {"datum": 358.56, "type": "quantitative"}, "y": {"field": "c", "type": "quantitative"}, "text": {"field": "c", "type": "quantitative", "format": ".4f"}}
        },
        {
          "data": {"values": [{}]},
          "mark": {"type": "rule", "color": "#ff0000", "strokeDash": [2,2], "strokeWidth": 1},
          "encoding": {"x": {"datum": 358.7, "type": "quantitative"}, "x2": {"datum": 367.2}, "y": {"datum": 2572.5, "type": "quantitative"}}
        }
      ]
    }
  ]
}
